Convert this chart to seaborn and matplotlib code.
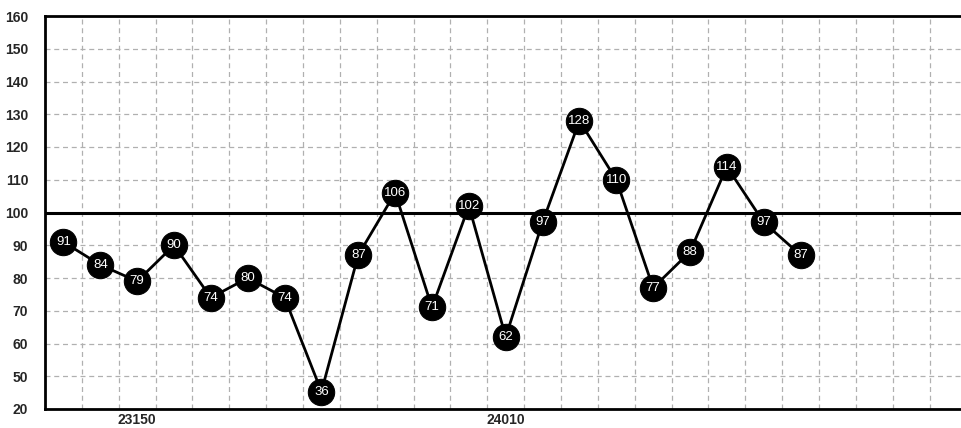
import numpy as np
import pandas as pd
import matplotlib
matplotlib.use('Agg')
import matplotlib.pyplot as plt
import seaborn as sns

# values
values = [91, 84, 79, 90, 74, 80, 74, 36, 87, 106, 71, 102, 62, 97, 128, 110, 77, 88, 114, 97, 87]
xtick_pos = [2, 12]
xtick_labels = ['23150', '24010']
ytick_vals = [20, 50, 60, 70, 80, 90, 100, 110, 120, 130, 140, 150, 160]
ref_level = 100

df = pd.DataFrame({'idx': np.arange(len(values)), 'val': values})

sns.set_style('white')
plt.rcParams['font.family'] = ['Liberation Sans', 'DejaVu Sans']


# axis is squeezed below 50 (20..50 takes one grid step)
def fwd(v):
    v = np.asarray(v, dtype=float)
    return np.where(v >= 50, v, 50 - (50 - v) / 3.0)


def inv(p):
    p = np.asarray(p, dtype=float)
    return np.where(p >= 50, p, 50 - (50 - p) * 3.0)


fig = plt.figure(figsize=(9.62, 4.28), dpi=100)
ax = fig.add_axes([45 / 962, 1 - 409 / 428, 1 - 45 / 962, (409 - 16) / 428])
ax.set_yscale('function', functions=(fwd, inv))

sns.lineplot(data=df, x='idx', y='val', ax=ax, color='black', linewidth=2,
             marker='o', markersize=19, markerfacecolor='black',
             markeredgecolor='black', zorder=4)
ax.axhline(ref_level, color='black', linewidth=2.2, zorder=3)

for i, v in zip(df['idx'], df['val']):
    ax.text(i, v, str(v), color='white', ha='center', va='center',
            fontsize=9.5, zorder=5)

ax.set_xlim(-0.5, 24.38)
ax.set_ylim(20, 160)
ax.set_xticks(xtick_pos)
ax.set_xticklabels(xtick_labels, fontweight='bold', fontsize=10)
ax.set_xticks(np.arange(0.5, 24, 1.0), minor=True)
ax.set_yticks(ytick_vals)
ax.set_yticklabels([str(t) for t in ytick_vals], fontweight='bold', fontsize=10)
ax.yaxis.set_minor_locator(matplotlib.ticker.NullLocator())
ax.tick_params(axis='both', which='both', length=0)
ax.tick_params(axis='y', pad=12)
ax.tick_params(axis='x', pad=3)

ax.grid(False)
ax.xaxis.grid(True, which='minor', color='#b0b0b0', linestyle=(0, (4, 3)), linewidth=0.9)
ax.yaxis.grid(True, which='major', color='#b0b0b0', linestyle=(0, (4, 3)), linewidth=0.9)
ax.set_axisbelow(True)

for s in ['left', 'top', 'bottom']:
    ax.spines[s].set_color('black')
    ax.spines[s].set_linewidth(2)
ax.spines['right'].set_visible(False)
ax.set_xlabel('')
ax.set_ylabel('')

fig.savefig('out.png', dpi=100)
plt.close()
